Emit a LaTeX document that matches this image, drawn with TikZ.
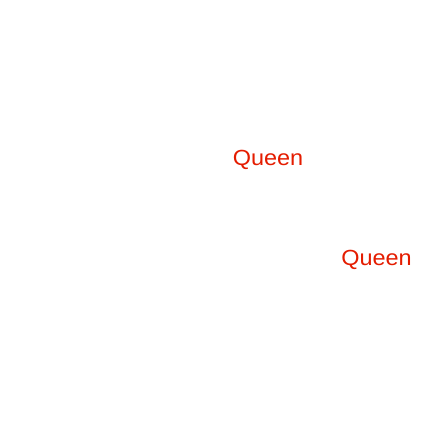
\documentclass[tikz,border=0pt]{standalone}
\usepackage{fontspec}
\setmainfont{Liberation Sans}
\newfontfamily\qfont[FakeStretch=1.07]{Liberation Sans}
\definecolor{qred}{RGB}{228,28,0}
\begin{document}
\begin{tikzpicture}[x=1bp,y=1bp,
  lbl/.style={text=qred,font=\qfont\fontsize{22}{26}\selectfont,inner sep=0pt,anchor=base}]
\useasboundingbox (0,0) rectangle (432,432);
\node[lbl] (q1) at (268,266.5) {Queen};
\node[lbl] (q2) at (376.5,167) {Queen};
\end{tikzpicture}
\end{document}
